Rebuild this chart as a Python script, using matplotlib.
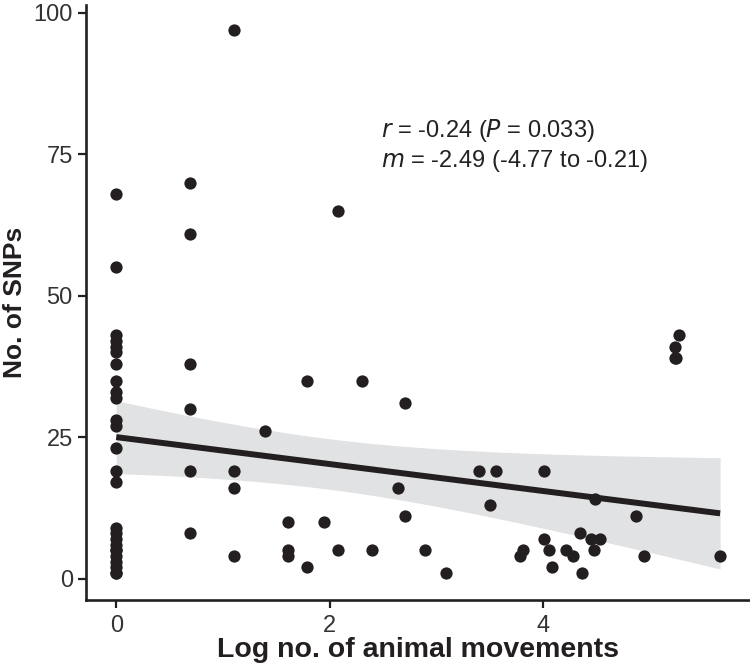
import numpy as np
import matplotlib
matplotlib.use("Agg")
import matplotlib.pyplot as plt

plt.rcParams['font.family'] = ['Liberation Sans', 'DejaVu Sans']

# log no. of animal movements (x) and number of SNPs (y)
log_moves = ([0.0] * 26
             + [0.69] * 6
             + [1.10] * 4
             + [1.39]
             + [1.61] * 3
             + [1.79] * 2
             + [1.95]
             + [2.08] * 2
             + [2.30, 2.40, 2.64, 2.71, 2.71, 2.89, 3.09, 3.40, 3.50, 3.56,
                3.78, 3.81, 4.01, 4.01, 4.06, 4.08, 4.22, 4.28, 4.35, 4.37,
                4.45, 4.48, 4.49, 4.53, 4.87, 4.95, 5.24, 5.24, 5.25, 5.27, 5.66])
snps = ([68, 55, 43, 42, 41, 40, 38, 35, 33, 32, 28, 27, 23, 19, 17,
         9, 8, 7, 6, 5, 5, 4, 3, 2, 1, 1]
        + [70, 61, 38, 30, 19, 8]
        + [97, 19, 16, 4]
        + [26]
        + [10, 5, 4]
        + [35, 2]
        + [10]
        + [65, 5]
        + [35, 5, 16, 31, 11, 5, 1, 19, 13, 19,
           4, 5, 19, 7, 5, 2, 5, 4, 8, 1,
           7, 5, 14, 7, 11, 4, 41, 39, 39, 43, 4])

x_ticks = [0, 2, 4]
y_ticks = [0, 25, 50, 75, 100]
stats_text = ["$r$ = -0.24 ($P$ = 0.033)", "$m$ = -2.49 (-4.77 to -0.21)"]

x = np.array(log_moves)
y = np.array(snps, dtype=float)

# linear fit with 95% confidence band
n = len(x)
slope, intercept = np.polyfit(x, y, 1)
resid = y - (intercept + slope * x)
s = np.sqrt(np.sum(resid ** 2) / (n - 2))
xx = np.linspace(x.min(), x.max(), 100)
yy = intercept + slope * xx
se = s * np.sqrt(1 / n + (xx - x.mean()) ** 2 / np.sum((x - x.mean()) ** 2))
t = 1.99

ink = '#231f20'
narrow = ['Liberation Sans Narrow', 'Liberation Sans']
fig = plt.figure(figsize=(7.5, 6.68), dpi=100)
ax = fig.add_axes([0.1147, 0.1018, 0.8853, 0.8907])

ax.fill_between(xx, yy - t * se, yy + t * se, color='#e1e2e4', lw=0, zorder=1)
ax.plot(xx, yy, color=ink, lw=4.3, zorder=2, solid_capstyle='butt')
ax.scatter(x, y, s=78, color=ink, lw=0, zorder=3)

ax.set_xlim(-0.283, 5.94)
ax.set_ylim(-3.8, 101.4)
ax.set_xticks(x_ticks)
ax.set_yticks(y_ticks)

for side in ['top', 'right']:
    ax.spines[side].set_visible(False)
for side in ['left', 'bottom']:
    ax.spines[side].set_linewidth(1.9)
    ax.spines[side].set_color(ink)
ax.tick_params(length=5.5, width=1.6, color=ink, labelcolor='#333333', labelsize=17)
ax.tick_params(axis='x', pad=5)
ax.tick_params(axis='y', pad=4)
for lab in ax.get_xticklabels():
    lab.set_family(narrow)

ax.set_xlabel('Log no. of animal movements', fontsize=20.5, fontweight='bold', color=ink,
              family=narrow, labelpad=0)
ax.set_ylabel('No. of SNPs', fontsize=19, fontweight='bold', color=ink, labelpad=5)

ax.text(2.48, 78.0, stats_text[0], fontsize=17, color='#222222')
ax.text(2.48, 72.7, stats_text[1], fontsize=17, color='#222222')

fig.savefig('out.png', dpi=100)
